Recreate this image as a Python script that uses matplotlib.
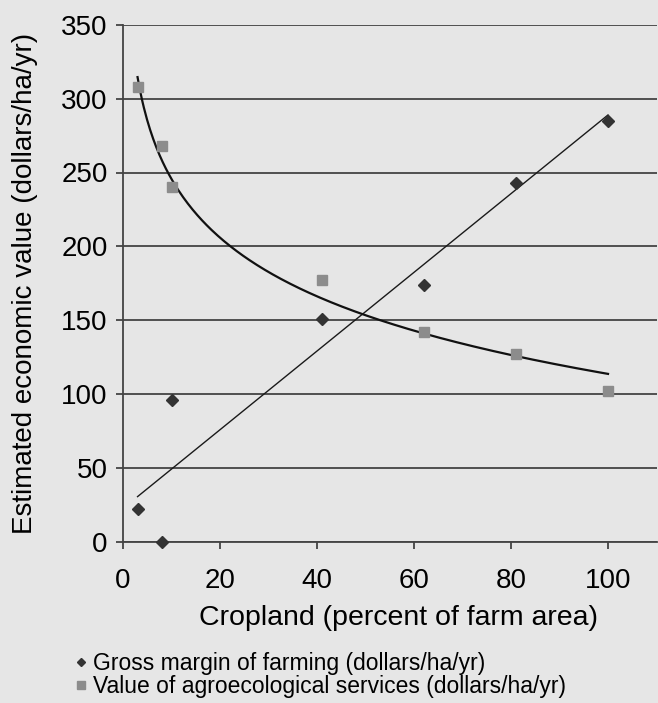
import numpy as np
import matplotlib
matplotlib.use("Agg")
import matplotlib.pyplot as plt
from matplotlib.lines import Line2D

plt.rcParams['font.family'] = ['Liberation Sans', 'DejaVu Sans']

cropland = [3, 8, 10, 41, 62, 81, 100]
gross_margin = [22, 0, 96, 151, 174, 243, 285]
agro_value = [308, 268, 240, 177, 142, 127, 102]
y_ticks = [0, 50, 100, 150, 200, 250, 300, 350]
x_ticks = [0, 20, 40, 60, 80, 100]

bg = '#e6e6e6'
fig = plt.figure(figsize=(6.58, 7.03), dpi=100, facecolor=bg)
ax = fig.add_axes([123/658, (703-542)/703, (657-123)/658, (542-24.7)/703])
ax.set_facecolor(bg)

x = np.array(cropland, float)
# trend lines
p_lin = np.polyfit(x, gross_margin, 1)
p_log = np.polyfit(np.log(x), agro_value, 1)
xs = np.linspace(min(cropland), max(cropland), 300)
ax.plot(xs, np.polyval(p_lin, xs), color='#1a1a1a', lw=1.0, zorder=3)
ax.plot(xs, np.polyval(p_log, np.log(xs)), color='#111111', lw=1.6, zorder=3)

ax.plot(cropland, gross_margin, linestyle='none', marker='D', ms=6.5,
        color='#333333', mec='#333333', zorder=4, clip_on=False)
ax.plot(cropland, agro_value, linestyle='none', marker='s', ms=7.5,
        color='#8c8c8c', mec='#8c8c8c', zorder=4, clip_on=False)

ax.set_xlim(0, 110.1)
ax.set_ylim(0, 350)
ax.set_yticks(y_ticks)
ax.set_xticks(x_ticks)
ax.yaxis.grid(True, color='#444444', lw=1.3)
ax.set_axisbelow(True)
for s in ['top', 'right']:
    ax.spines[s].set_visible(False)
for s in ['left', 'bottom']:
    ax.spines[s].set_color('#444444')
    ax.spines[s].set_linewidth(1.3)
ax.tick_params(axis='both', colors='#444444', labelcolor='black', labelsize=20,
               width=1.3, length=5)
ax.tick_params(axis='x', pad=13.5)
ax.tick_params(axis='y', pad=6)

ax.set_xlabel('Cropland (percent of farm area)', fontsize=20.5)
ax.xaxis.set_label_coords(0.515, -0.122)
ax.set_ylabel('Estimated economic value (dollars/ha/yr)', fontsize=20, labelpad=17)

handles = [
    Line2D([], [], linestyle='none', marker='D', ms=4.5, color='#333333'),
    Line2D([], [], linestyle='none', marker='s', ms=5.5, color='#8c8c8c'),
]
labels = ['Gross margin of farming (dollars/ha/yr)',
          'Value of agroecological services (dollars/ha/yr)']
fig.legend(handles, labels, loc='upper left', bbox_to_anchor=(74/658, 1-652/703),
           frameon=False, fontsize=16.5, handlelength=0.6, handletextpad=0.25,
           labelspacing=0.0, borderpad=0, borderaxespad=0)

fig.savefig('out.png', dpi=100, facecolor=bg)
